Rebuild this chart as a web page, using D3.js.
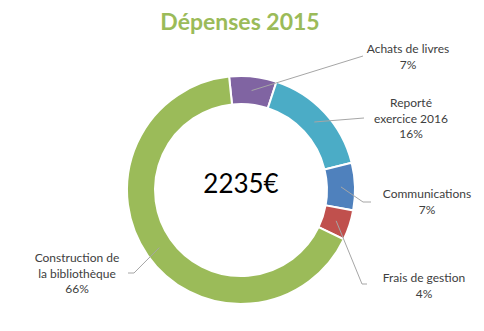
<!DOCTYPE html>
<html><head><meta charset="utf-8">
<script src="https://cdn.jsdelivr.net/npm/d3@7/dist/d3.min.js"></script>
<style>body{margin:0;background:#fff}svg{display:block}</style>
</head><body>
<svg id="c" width="484" height="331"></svg>
<script>
const categories = ["Achats de livres", "Reporté exercice 2016", "Communications", "Frais de gestion", "Construction de la bibliothèque"];
const values = [150, 360, 150, 95, 1480];
const labelLines = [["Achats de livres"], ["Reporté", "exercice 2016"], ["Communications"], ["Frais de gestion"], ["Construction de", "la bibliothèque"]];
const colors = ["#8064A2", "#4BACC6", "#4F81BD", "#C0504D", "#9BBB59"];
const title = "Dépenses 2015";
const centerText = "2235€";

// layout (label anchors: text center x, first baseline y, leader end point, elbow)
const labelLayout = [
  {x: 408, y: 53, end: [363, 56], elbow: null},
  {x: 411, y: 107, end: [364, 118], elbow: null},
  {x: 427, y: 198, end: [371, 202], elbow: [363, 202]},
  {x: 424, y: 282, end: [367, 284], elbow: [362, 284]},
  {x: 77, y: 262, end: [128, 273], elbow: [134, 273]}
];

const svg = d3.select("#c");
const cx = 241, cy = 190, R = 114, r = 86;
const total = d3.sum(values);
const start = -6 * Math.PI / 180;
const pie = d3.pie().sort(null).startAngle(start).endAngle(start + 2 * Math.PI);
const arcs = pie(values);
const arc = d3.arc().innerRadius(r).outerRadius(R);
const mid = d3.arc().innerRadius((R + r) / 2).outerRadius((R + r) / 2);

svg.append("text").attr("x", 240).attr("y", 30).attr("text-anchor", "middle")
  .attr("font-family", "Lato, 'Open Sans', sans-serif").attr("font-weight", "bold")
  .attr("font-size", 23).attr("fill", "#9BBB59").text(title);

const g = svg.append("g").attr("transform", `translate(${cx},${cy})`);
g.selectAll("path").data(arcs).join("path")
  .attr("d", arc).attr("fill", (d, i) => colors[i])
  .attr("stroke", "#fff").attr("stroke-width", 2);

g.append("text").attr("x", 0).attr("y", 3).attr("text-anchor", "middle")
  .attr("font-family", "Lato, 'Open Sans', sans-serif").attr("font-size", 26)
  .attr("fill", "#000").text(centerText);

arcs.forEach((d, i) => {
  const c = mid.centroid(d);
  const L = labelLayout[i];
  const pts = [[cx + c[0], cy + c[1]]];
  if (L.elbow) pts.push(L.elbow);
  pts.push(L.end);
  svg.append("path").attr("d", d3.line()(pts)).attr("fill", "none")
    .attr("stroke", "#A6A6A6").attr("stroke-width", 1);
  const lines = labelLines[i].concat([Math.round(values[i] / total * 100) + "%"]);
  const t = svg.append("text").attr("text-anchor", "middle")
    .attr("font-family", "Lato, 'Open Sans', sans-serif").attr("font-size", 12).attr("fill", "#404040");
  lines.forEach((s, j) => t.append("tspan").attr("x", L.x).attr("y", L.y + j * 15.5).text(s));
});
</script>
</body></html>
